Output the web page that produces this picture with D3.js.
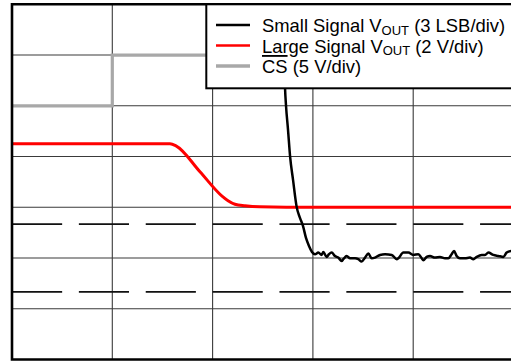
<!DOCTYPE html>
<html>
<head>
<meta charset="utf-8">
<script src="https://cdn.jsdelivr.net/npm/d3@7/dist/d3.min.js"></script>
<style>
  html, body { margin: 0; padding: 0; background: #fff; }
  svg { display: block; }
  text { font-family: Arial, "Liberation Sans", sans-serif; }
</style>
</head>
<body>
<svg id="chart" width="511" height="362"></svg>
<script>
// Oscilloscope-style settling capture; all values in screen divisions.
const timeGrid = [0, 1, 2, 3, 4, 5];            // horizontal divisions
const levelGrid = [0, 1, 2, 3, 4, 5, 6, 7];     // vertical divisions

// CS (5 V/div)
const csTime  = [0, 1, 1, 5];
const csLevel = [5, 5, 6, 6];

// Large signal VOUT (2 V/div)
const largeTime  = [0, 1.575, 1.635, 1.874, 2.094, 2.154, 2.223, 2.323, 2.47, 3.0, 5.0];
const largeLevel = [4.25, 4.25, 4.21, 3.70, 3.22, 3.13, 3.06, 3.03, 3.01, 3.0, 3.0];

// Small signal VOUT (3 LSB/div)
const smallTime = [2.702, 2.722, 2.732, 2.752, 2.772, 2.802, 2.838, 2.871, 2.901, 2.931, 2.961, 2.991,
  3.021, 3.054, 3.087, 3.104, 3.137, 3.160, 3.187, 3.220, 3.253, 3.287, 3.303, 3.337, 3.370, 3.420,
  3.453, 3.486, 3.520, 3.553, 3.586, 3.619, 3.669, 3.719, 3.786, 3.836, 3.852, 3.902, 3.952, 4.001,
  4.051, 4.085, 4.101, 4.134, 4.168, 4.217, 4.267, 4.317, 4.350, 4.383, 4.407, 4.433, 4.466, 4.516,
  4.566, 4.600, 4.633, 4.683, 4.716, 4.749, 4.799, 4.849, 4.899, 4.932, 4.976];
const smallLevel = [7.0, 5.355, 5.0, 4.527, 4.014, 3.540, 3.008, 2.791, 2.633, 2.396, 2.239, 2.120,
  2.074, 2.107, 2.061, 2.120, 2.022, 2.074, 2.107, 2.041, 2.008, 1.943, 1.976, 2.041, 1.995, 1.995,
  1.976, 1.930, 2.008, 2.087, 1.995, 2.008, 2.061, 2.074, 2.061, 1.976, 1.995, 2.107, 2.107, 2.061,
  2.074, 1.995, 1.956, 2.022, 2.041, 2.008, 2.022, 1.995, 1.995, 2.074, 2.140, 2.041, 1.995, 1.995,
  2.008, 1.976, 2.022, 2.061, 2.061, 2.107, 2.061, 2.041, 2.022, 2.107, 2.140];

// ±2 LSB settling band around the final value
const bandLevels = [2.667, 1.333];

const legendLabels = [
  { main: "Small Signal V", sub: "OUT", tail: " (3 LSB/div)", color: "#000000", width: 2.5 },
  { main: "Large Signal V", sub: "OUT", tail: " (2 V/div)", color: "#ff0000", width: 2.5 },
  { main: "CS", sub: "", tail: " (5 V/div)", color: "#a8a8a8", width: 3.5, overline: true }
];

const svg = d3.select("#chart");
const x = d3.scaleLinear().domain([0, 5]).range([12, 513.5]);
const y = d3.scaleLinear().domain([0, 7]).range([359.5, 4.3]);

svg.append("defs").append("clipPath").attr("id", "plotClip")
  .append("rect")
  .attr("x", x(0)).attr("y", y(7))
  .attr("width", x(5) - x(0)).attr("height", y(0) - y(7));

// grid
const grid = svg.append("g");
grid.selectAll("line.v").data(timeGrid.slice(1, -1)).join("line")
  .attr("x1", d => x(d)).attr("x2", d => x(d))
  .attr("y1", y(0)).attr("y2", y(7))
  .attr("stroke", "#3a3a3a").attr("stroke-width", 1.1);
grid.selectAll("line.h").data(levelGrid.slice(1, -1)).join("line")
  .attr("x1", x(0)).attr("x2", x(5))
  .attr("y1", d => y(d)).attr("y2", d => y(d))
  .attr("stroke", "#3a3a3a").attr("stroke-width", 1.1);

const plot = svg.append("g").attr("clip-path", "url(#plotClip)");

// settling band
const dashLen = (x(1) - x(0)) / 2;
const gapLen = (x(1) - x(0)) / 6;
plot.selectAll("line.band").data(bandLevels).join("line")
  .attr("x1", x(0)).attr("x2", x(5))
  .attr("y1", d => y(d)).attr("y2", d => y(d))
  .attr("stroke", "#111").attr("stroke-width", 1.8)
  .attr("stroke-dasharray", `${dashLen} ${gapLen}`);

const lineOf = (ts, vs, curve) => d3.line()
  .x((d, i) => x(ts[i])).y((d, i) => y(vs[i])).curve(curve)(ts);

plot.append("path")
  .attr("d", lineOf(csTime, csLevel, d3.curveLinear))
  .attr("fill", "none").attr("stroke", "#a8a8a8").attr("stroke-width", 3.2);

plot.append("path")
  .attr("d", lineOf(largeTime, largeLevel, d3.curveMonotoneX))
  .attr("fill", "none").attr("stroke", "#ff0000").attr("stroke-width", 3);

plot.append("path")
  .attr("d", lineOf(smallTime, smallLevel, d3.curveMonotoneX))
  .attr("fill", "none").attr("stroke", "#000").attr("stroke-width", 2.5)
  .attr("stroke-linejoin", "round");

// frame (left, top, bottom)
svg.append("path")
  .attr("d", `M${x(5) + 5},${y(7)} H${x(0)} V${y(0)} H${x(5) + 5}`)
  .attr("fill", "none").attr("stroke", "#000").attr("stroke-width", 2.6);

// legend
const legend = svg.append("g");
legend.append("rect")
  .attr("x", 206.3).attr("y", y(7)).attr("width", 320).attr("height", 88.3 - y(7))
  .attr("fill", "#fff").attr("stroke", "#000").attr("stroke-width", 2);

const rowY = [32, 52.5, 73];
legendLabels.forEach((item, i) => {
  legend.append("line")
    .attr("x1", 216).attr("x2", 250)
    .attr("y1", rowY[i] - 7).attr("y2", rowY[i] - 7)
    .attr("stroke", item.color).attr("stroke-width", item.width);
  const t = legend.append("text")
    .attr("x", 262).attr("y", rowY[i])
    .attr("font-size", 18.4).attr("fill", "#000");
  const m = t.append("tspan").text(item.main);
  if (item.overline) m.style("text-decoration", "overline");
  if (item.sub) {
    t.append("tspan").attr("font-size", 13).attr("dy", 2.5).text(item.sub);
    t.append("tspan").attr("dy", -2.5).text(item.tail);
  } else {
    t.append("tspan").text(item.tail);
  }
});
</script>
</body>
</html>
